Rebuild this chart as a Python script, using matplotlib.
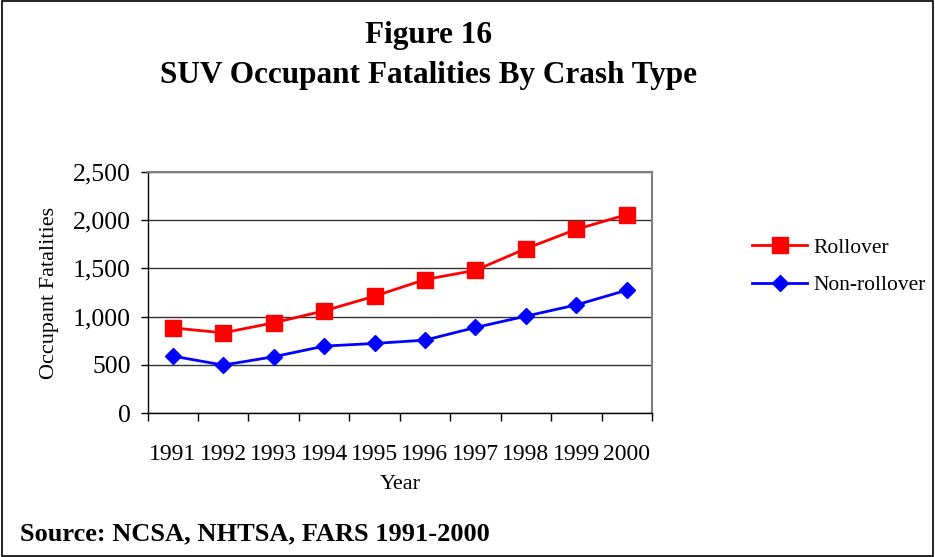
import matplotlib
matplotlib.use("Agg")
import matplotlib.pyplot as plt
from matplotlib.ticker import FuncFormatter, FixedLocator, NullFormatter
from matplotlib.patches import Rectangle

years = ["1991", "1992", "1993", "1994", "1995", "1996", "1997", "1998", "1999", "2000"]
rollover = [884, 833, 936, 1060, 1212, 1384, 1480, 1704, 1904, 2056]
non_rollover = [592, 499, 585, 695, 723, 757, 888, 1005, 1122, 1274]

plt.rcParams['font.family'] = ['Liberation Serif', 'DejaVu Serif']

fig = plt.figure(figsize=(9.35, 5.57), dpi=100)
fig.patches.append(Rectangle((0.002, 0.002), 0.996, 0.996, transform=fig.transFigure,
                             fill=False, edgecolor='black', linewidth=1.2))

ax = fig.add_axes([0.1578, 0.258, 0.5395, 0.4337])
x = list(range(len(years)))
ax.plot(x, rollover, color='#ff0000', marker='s', markersize=11, linewidth=2, label='Rollover')
ax.plot(x, non_rollover, color='#0000ff', marker='D', markersize=8.5, linewidth=2, label='Non-rollover')

ax.set_xlim(-0.5, len(years) - 0.5)
ax.set_ylim(0, 2500)
ax.set_yticks([0, 500, 1000, 1500, 2000, 2500])
ax.yaxis.set_major_formatter(FuncFormatter(lambda v, p: f"{int(v):,}"))
ax.grid(axis='y', color='#333333', linewidth=1)
ax.set_axisbelow(True)

ax.set_xticks(x)
ax.set_xticklabels(years)
ax.tick_params(axis='x', which='major', length=0, pad=22, labelsize=17)
ax.xaxis.set_minor_locator(FixedLocator([i - 0.5 for i in range(len(years) + 1)]))
ax.xaxis.set_minor_formatter(NullFormatter())
ax.tick_params(axis='x', which='minor', length=6, width=1, color='black')
ax.tick_params(axis='y', length=5, width=1, labelsize=18.5, pad=7)

for s in ['top', 'right']:
    ax.spines[s].set_color('#808080')
    ax.spines[s].set_linewidth(1.5)
for s in ['left', 'bottom']:
    ax.spines[s].set_color('black')
    ax.spines[s].set_linewidth(1)

ax.set_xlabel('Year', fontsize=16, labelpad=7.5)
ax.set_ylabel('Occupant Fatalities', fontsize=16, labelpad=10)

ax.legend(loc='center left', bbox_to_anchor=(1.0, 0.608), frameon=False, fontsize=15.5,
          handlelength=2.55, labelspacing=0.8, borderaxespad=4.25, handletextpad=0.3)

fig.text(0.458, 0.936, 'Figure 16', ha='center', va='center', fontsize=22.5, fontweight='bold')
fig.text(0.458, 0.864, 'SUV Occupant Fatalities By Crash Type', ha='center', va='center',
         fontsize=22.5, fontweight='bold')
fig.text(0.021, 0.041, 'Source: NCSA, NHTSA, FARS 1991-2000', ha='left', va='center',
         fontsize=19, fontweight='bold')

fig.savefig('out.png', dpi=100)
